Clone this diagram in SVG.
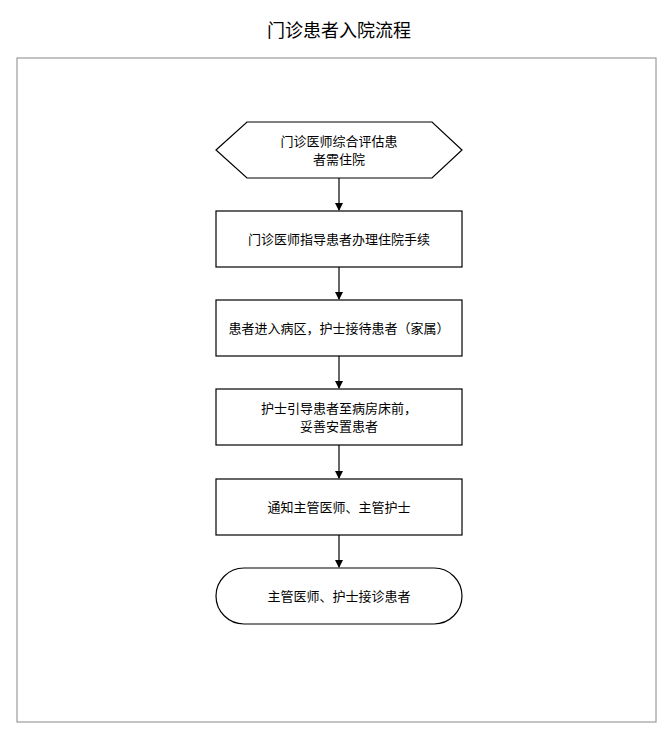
<svg xmlns="http://www.w3.org/2000/svg" width="672" height="732" viewBox="0 0 672 732">
<style>
.s{fill:#fff;stroke:#000;stroke-width:1.2}
.t{font-family:"Liberation Sans","Noto Sans CJK SC",sans-serif;font-size:13px;text-anchor:middle;fill:#000}
.c{stroke:#000;stroke-width:1.2;fill:none;marker-end:url(#a)}
</style>
<defs><marker id="a" markerWidth="8" markerHeight="8" refX="7" refY="4" orient="auto" markerUnits="userSpaceOnUse"><path d="M0,0L8,4L0,8z" fill="#000"/></marker></defs>
<rect width="672" height="732" fill="#fff"/>
<text x="339" y="37" style="font-family:'Liberation Sans','Noto Sans CJK SC',sans-serif;font-size:18px;text-anchor:middle">门诊患者入院流程</text>
<rect x="17" y="58" width="639" height="664" fill="none" stroke="#888" stroke-width="1"/>
<g id="connectors">
<path class="c" d="M339,178V210"/>
<path class="c" d="M339,267V299"/>
<path class="c" d="M339,356V388"/>
<path class="c" d="M339,445V478"/>
<path class="c" d="M339,535V567"/>
</g>
<g id="n1"><polygon class="s" points="216,150 247,122 432,122 462,150 432,178 247,178"/><text class="t" x="339" y="146">门诊医师综合评估患</text><text class="t" x="339" y="164">者需住院</text></g>
<g id="n2"><rect class="s" x="216" y="211" width="246" height="56"/><text class="t" x="339" y="244">门诊医师指导患者办理住院手续</text></g>
<g id="n3"><rect class="s" x="216" y="300" width="246" height="56"/><text class="t" x="339" y="333">患者进入病区，护士接待患者（家属）</text></g>
<g id="n4"><rect class="s" x="216" y="389" width="246" height="56"/><text class="t" x="339" y="413">护士引导患者至病房床前，</text><text class="t" x="339" y="431">妥善安置患者</text></g>
<g id="n5"><rect class="s" x="216" y="479" width="246" height="56"/><text class="t" x="339" y="512">通知主管医师、主管护士</text></g>
<g id="n6"><rect class="s" x="216" y="568" width="246" height="56" rx="28"/><text class="t" x="339" y="601">主管医师、护士接诊患者</text></g>
</svg>
